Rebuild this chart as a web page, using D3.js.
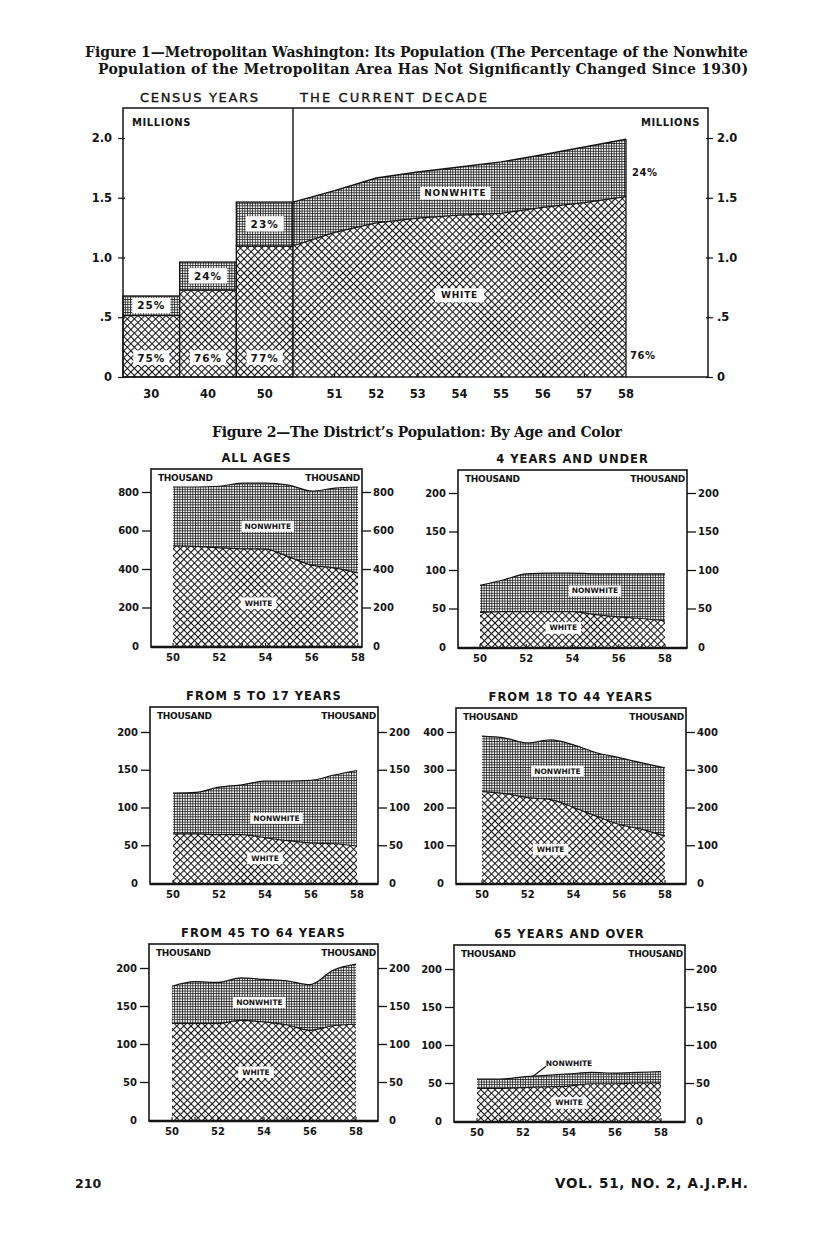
<!DOCTYPE html>
<html>
<head>
<meta charset="utf-8">
<script src="https://d3js.org/d3.v7.min.js"></script>
<style>
  body { margin: 0; background: #fff; }
  svg text { fill: #141414; }
</style>
</head>
<body>
<svg width="816" height="1255"></svg>
<script>
// ---- Figure 1: metropolitan area, millions ----
var censusYears = ["30", "40", "50"];
var censusWhite = [0.515, 0.728, 1.096];
var censusNonwhite = [0.163, 0.234, 0.368];
var censusWhitePct = ["75%", "76%", "77%"];
var censusNonwhitePct = ["25%", "24%", "23%"];

var decadeYears = [1950, 1951, 1952, 1953, 1954, 1955, 1956, 1957, 1958];
var decadeWhite = [1.096, 1.21, 1.29, 1.33, 1.355, 1.37, 1.42, 1.46, 1.51];
var decadeNonwhite = [0.368, 0.35, 0.375, 0.385, 0.402, 0.43, 0.44, 0.465, 0.48];
var decadeLabels = ["51", "52", "53", "54", "55", "56", "57", "58"];
var fig1Ticks = [0, 0.5, 1.0, 1.5, 2.0];

// ---- Figure 2: the District, thousands ----
var years = [1950, 1951, 1952, 1953, 1954, 1955, 1956, 1957, 1958];
var yearLabels = [1950, 1952, 1954, 1956, 1958];

var allAgesWhite = [520, 518, 510, 505, 503, 463, 420, 405, 380];
var allAgesNonwhite = [306, 308, 320, 341, 343, 373, 385, 415, 446];
var under5White = [45, 46, 46, 46, 46, 42, 39, 37, 34];
var under5Nonwhite = [35, 41, 49, 50, 50, 53, 56, 58, 61];
var age5to17White = [65, 65, 64, 64, 60, 56, 53, 52, 49];
var age5to17Nonwhite = [54, 55, 63, 66, 75, 79, 83, 91, 100];
var age18to44White = [242, 237, 226, 221, 200, 177, 155, 142, 124];
var age18to44Nonwhite = [147, 147, 145, 158, 166, 168, 177, 176, 181];
var age45to64White = [127, 127, 127, 131, 129, 125, 118, 124, 126];
var age45to64Nonwhite = [49, 55, 54, 56, 56, 58, 60, 73, 79];
var over65White = [43, 43, 44, 45, 46, 49, 49, 50, 50];
var over65Nonwhite = [12, 12, 14, 15, 16, 15, 14, 14, 15];

var ticks800 = [0, 200, 400, 600, 800];
var ticks200 = [0, 50, 100, 150, 200];
var ticks400 = [0, 100, 200, 300, 400];

var ink = "#141414";
var sans = "'DejaVu Sans', sans-serif";
var serif = "'DejaVu Serif', serif";

var svg = d3.select("svg");

// patterns: crosshatch for white, fine grid for nonwhite
var defs = svg.append("defs");
var hatch = defs.append("pattern")
  .attr("id", "hatch")
  .attr("patternUnits", "userSpaceOnUse")
  .attr("width", 5).attr("height", 5)
  .attr("patternTransform", "rotate(45)");
hatch.append("rect").attr("width", 5).attr("height", 5).attr("fill", "#fff");
hatch.append("path").attr("d", "M0,0.5H5M0.5,0V5")
  .attr("stroke", ink).attr("stroke-width", 1.2);

var grid = defs.append("pattern")
  .attr("id", "grid")
  .attr("patternUnits", "userSpaceOnUse")
  .attr("width", 2.6).attr("height", 2.6);
grid.append("rect").attr("width", 2.6).attr("height", 2.6).attr("fill", "#fff");
grid.append("path").attr("d", "M0,0.5H2.6M0.5,0V2.6")
  .attr("stroke", ink).attr("stroke-width", 0.8);

function addText(g, x, y, str, size, weight, anchor, font) {
  return g.append("text")
    .attr("x", x).attr("y", y)
    .attr("text-anchor", anchor || "start")
    .style("font-family", font || sans)
    .style("font-size", size + "px")
    .style("font-weight", weight || "bold")
    .text(str);
}

// white box with a label, centred on (x, y)
function labelBox(g, x, y, str, size, spacing, pad) {
  pad = pad || 3;
  var box = g.append("rect").attr("fill", "#fff");
  var t = addText(g, x, y + size * 0.36, str, size, "bold", "middle")
    .style("letter-spacing", (spacing || 0) + "px");
  var b = t.node().getBBox();
  box.attr("x", b.x - pad).attr("y", b.y - pad / 3)
    .attr("width", b.width + pad * 2).attr("height", b.height + pad * 2 / 3);
  return t;
}

// ---------------- titles ----------------
addText(svg, 85, 57, "Figure 1\u2014Metropolitan Washington: Its Population (The Percentage of the Nonwhite", 14, "bold", "start", serif)
  .attr("textLength", 663);
addText(svg, 98, 74, "Population of the Metropolitan Area Has Not Significantly Changed Since 1930)", 14, "bold", "start", serif)
  .attr("textLength", 650);
addText(svg, 140, 102, "CENSUS YEARS", 13, "normal").attr("textLength", 118)
  .style("stroke", ink).style("stroke-width", 0.35);
addText(svg, 300, 102, "THE CURRENT DECADE", 13, "normal").attr("textLength", 187)
  .style("stroke", ink).style("stroke-width", 0.35);

// ---------------- Figure 1 ----------------
var f1 = { left: 123, right: 708, top: 108, bottom: 377, split: 293, end: 626 };
var yM = d3.scaleLinear().domain([0, 2]).range([f1.bottom, 138]);
var xCensus = d3.scaleBand().domain(censusYears).range([f1.left, f1.split]);
var xDecade = d3.scaleLinear().domain([1950, 1958]).range([f1.split, f1.end]);

var g1 = svg.append("g");

// census bars
censusYears.forEach(function (yr, i) {
  g1.append("rect")
    .attr("x", xCensus(yr)).attr("width", xCensus.bandwidth())
    .attr("y", yM(censusWhite[i])).attr("height", yM(0) - yM(censusWhite[i]))
    .attr("fill", "url(#hatch)").attr("stroke", ink).attr("stroke-width", 1.3);
  g1.append("rect")
    .attr("x", xCensus(yr)).attr("width", xCensus.bandwidth())
    .attr("y", yM(censusWhite[i] + censusNonwhite[i]))
    .attr("height", yM(censusWhite[i]) - yM(censusWhite[i] + censusNonwhite[i]))
    .attr("fill", "url(#grid)").attr("stroke", ink).attr("stroke-width", 1.3);
});

// current decade areas
var decade = decadeYears.map(function (d, i) {
  return { year: d, white: decadeWhite[i], total: decadeWhite[i] + decadeNonwhite[i] };
});
g1.append("path").datum(decade)
  .attr("fill", "url(#hatch)")
  .attr("d", d3.area().x(function (d) { return xDecade(d.year); })
    .y0(yM(0)).y1(function (d) { return yM(d.white); }));
g1.append("path").datum(decade)
  .attr("fill", "url(#grid)")
  .attr("d", d3.area().x(function (d) { return xDecade(d.year); })
    .y0(function (d) { return yM(d.white); }).y1(function (d) { return yM(d.total); }));
g1.append("path").datum(decade)
  .attr("fill", "none").attr("stroke", ink).attr("stroke-width", 1.4)
  .attr("d", d3.line().x(function (d) { return xDecade(d.year); })
    .y(function (d) { return yM(d.total); }));
g1.append("path").datum(decade)
  .attr("fill", "none").attr("stroke", ink).attr("stroke-width", 1.2)
  .attr("d", d3.line().x(function (d) { return xDecade(d.year); })
    .y(function (d) { return yM(d.white); }));
g1.append("line")
  .attr("x1", xDecade(1958)).attr("x2", xDecade(1958))
  .attr("y1", yM(0)).attr("y2", yM(decade[8].total))
  .attr("stroke", ink).attr("stroke-width", 1.3);

// frame and divider
g1.append("rect")
  .attr("x", f1.left).attr("y", f1.top)
  .attr("width", f1.right - f1.left).attr("height", f1.bottom - f1.top)
  .attr("fill", "none").attr("stroke", ink).attr("stroke-width", 1.5);
g1.append("line")
  .attr("x1", f1.split).attr("x2", f1.split).attr("y1", f1.top).attr("y2", f1.bottom)
  .attr("stroke", ink).attr("stroke-width", 1.4);

// axes
var fmtM = function (d) { return d === 0 ? "0" : d < 1 ? ".5" : d3.format(".1f")(d); };
var axL = g1.append("g").attr("transform", "translate(" + f1.left + ",0)")
  .call(d3.axisLeft(yM).tickValues(fig1Ticks).tickFormat(fmtM).tickSize(5).tickPadding(6));
var axR = g1.append("g").attr("transform", "translate(" + f1.right + ",0)")
  .call(d3.axisRight(yM).tickValues(fig1Ticks).tickFormat(fmtM).tickSize(5).tickPadding(4));
[axL, axR].forEach(function (ax) {
  ax.select(".domain").remove();
  ax.selectAll("line").attr("stroke", ink).attr("stroke-width", 1.2);
  ax.selectAll("text").style("font-family", sans).style("font-size", "11.5px")
    .style("font-weight", "bold").attr("fill", ink);
});
axL.selectAll("line").attr("x1", 2);
axR.selectAll("line").attr("x1", -2);

censusYears.forEach(function (yr) {
  addText(g1, xCensus(yr) + xCensus.bandwidth() / 2, 398, yr, 11.5, "bold", "middle");
});
decadeLabels.forEach(function (lab, i) {
  var x = xDecade(1951 + i);
  addText(g1, x, 398, lab, 11.5, "bold", "middle");
  if (i < 7) {
    g1.append("line").attr("x1", x).attr("x2", x)
      .attr("y1", f1.bottom).attr("y2", f1.bottom - 4)
      .attr("stroke", ink).attr("stroke-width", 1.2);
  }
});

// labels
addText(g1, 132, 126, "MILLIONS", 10, "bold").style("letter-spacing", "0.6px");
addText(g1, 700, 126, "MILLIONS", 10, "bold", "end").style("letter-spacing", "0.6px");
censusYears.forEach(function (yr, i) {
  var cx = xCensus(yr) + xCensus.bandwidth() / 2;
  labelBox(g1, cx, yM(censusWhite[i] + censusNonwhite[i] / 2), censusNonwhitePct[i], 10.5, 1, 5);
  labelBox(g1, cx, yM(0.16), censusWhitePct[i], 10.5, 1, 4);
});
labelBox(g1, xDecade(1953.9), yM(1.54), "NONWHITE", 9, 0.8, 4);
labelBox(g1, xDecade(1954.0), yM(0.686), "WHITE", 9, 0.8, 6);
addText(g1, xDecade(1958) + 6, yM(1.715) + 4, "24%", 10, "bold").style("letter-spacing", "0.5px");
addText(g1, xDecade(1958) + 4, yM(0.18) + 4, "76%", 10, "bold").style("letter-spacing", "0.5px");

// ---------------- Figure 2 ----------------
addText(svg, 212, 437, "Figure 2\u2014The District\u2019s Population: By Age and Color", 14, "bold", "start", serif)
  .attr("textLength", 410);

var panels = [
  { title: "ALL AGES", white: allAgesWhite, nonwhite: allAgesNonwhite, ticks: ticks800,
    l: 151, r: 362, t: 469, b: 647, x0: 173, x1: 358, ytop: 492,
    nwLab: [1954.1, 623], wLab: [1953.7, 223] },
  { title: "4 YEARS AND UNDER", white: under5White, nonwhite: under5Nonwhite, ticks: ticks200,
    l: 458, r: 687, t: 470, b: 648, x0: 480, x1: 665, ytop: 493,
    nwLab: [1954.97, 73], wLab: [1953.6, 25] },
  { title: "FROM 5 TO 17 YEARS", white: age5to17White, nonwhite: age5to17Nonwhite, ticks: ticks200,
    l: 150, r: 378, t: 707, b: 884, x0: 173, x1: 357, ytop: 732,
    nwLab: [1954.5, 86], wLab: [1954.0, 33] },
  { title: "FROM 18 TO 44 YEARS", white: age18to44White, nonwhite: age18to44Nonwhite, ticks: ticks400,
    l: 456, r: 686, t: 708, b: 884, x0: 482, x1: 665, ytop: 732,
    nwLab: [1953.3, 297], wLab: [1953.0, 89] },
  { title: "FROM 45 TO 64 YEARS", white: age45to64White, nonwhite: age45to64Nonwhite, ticks: ticks200,
    l: 149, r: 378, t: 944, b: 1121, x0: 172, x1: 356, ytop: 968,
    nwLab: [1953.8, 155], wLab: [1953.65, 63] },
  { title: "65 YEARS AND OVER", white: over65White, nonwhite: over65Nonwhite, ticks: ticks200,
    l: 454, r: 685, t: 945, b: 1122, x0: 477, x1: 661, ytop: 969,
    nwLab: [1954.0, 76], wLab: [1954.0, 24], leader: [[1952.4, 58], [1953.0, 72]] }
];

panels.forEach(function (p) {
  var g = svg.append("g");
  var x = d3.scaleLinear().domain([1950, 1958]).range([p.x0, p.x1]);
  var y = d3.scaleLinear().domain([0, p.ticks[p.ticks.length - 1]]).range([p.b - 1, p.ytop]);
  var rows = years.map(function (yr, i) {
    return { year: yr, white: p.white[i], total: p.white[i] + p.nonwhite[i] };
  });

  g.append("path").datum(rows)
    .attr("fill", "url(#grid)")
    .attr("d", d3.area().curve(d3.curveMonotoneX)
      .x(function (d) { return x(d.year); })
      .y0(function (d) { return y(d.white); })
      .y1(function (d) { return y(d.total); }));
  g.append("path").datum(rows)
    .attr("fill", "url(#hatch)")
    .attr("d", d3.area().curve(d3.curveMonotoneX)
      .x(function (d) { return x(d.year); })
      .y0(y(0))
      .y1(function (d) { return y(d.white); }));
  ["total", "white"].forEach(function (k) {
    g.append("path").datum(rows)
      .attr("fill", "none").attr("stroke", ink).attr("stroke-width", 1.2)
      .attr("d", d3.line().curve(d3.curveMonotoneX)
        .x(function (d) { return x(d.year); })
        .y(function (d) { return y(d[k]); }));
  });

  // frame
  g.append("rect")
    .attr("x", p.l).attr("y", p.t).attr("width", p.r - p.l).attr("height", p.b - p.t)
    .attr("fill", "none").attr("stroke", ink).attr("stroke-width", 1.6);
  g.append("line")
    .attr("x1", p.l).attr("x2", p.r).attr("y1", p.b).attr("y2", p.b)
    .attr("stroke", ink).attr("stroke-width", 2.4);

  // year ticks on the base
  years.forEach(function (yr) {
    g.append("line").attr("x1", x(yr)).attr("x2", x(yr))
      .attr("y1", p.b).attr("y2", p.b - 4)
      .attr("stroke", ink).attr("stroke-width", 1.1);
  });
  yearLabels.forEach(function (yr) {
    addText(g, x(yr), p.b + 14, String(yr).slice(2), 10, "bold", "middle");
  });

  var axL = g.append("g").attr("transform", "translate(" + p.l + ",0)")
    .call(d3.axisLeft(y).tickValues(p.ticks).tickSize(9).tickPadding(3));
  var axR = g.append("g").attr("transform", "translate(" + p.r + ",0)")
    .call(d3.axisRight(y).tickValues(p.ticks).tickSize(9).tickPadding(2));
  [axL, axR].forEach(function (ax) {
    ax.select(".domain").remove();
    ax.selectAll("line").attr("stroke", ink).attr("stroke-width", 1.3);
    ax.selectAll("text").style("font-family", sans).style("font-size", "10px")
      .style("font-weight", "bold").attr("fill", ink);
    ax.selectAll(".tick").filter(function (d) { return d === 0; })
      .select("line").remove();
  });

  addText(g, (p.l + p.r) / 2, p.t - 7, p.title, 11.5, "bold", "middle")
    .style("letter-spacing", "1px");
  addText(g, p.l + 7, p.t + 12, "THOUSAND", 9, "bold").style("letter-spacing", "-0.3px");
  addText(g, p.r - 2, p.t + 12, "THOUSAND", 9, "bold", "end").style("letter-spacing", "-0.3px");

  if (p.leader) {
    g.append("line")
      .attr("x1", x(p.leader[0][0])).attr("y1", y(p.leader[0][1]))
      .attr("x2", x(p.leader[1][0])).attr("y2", y(p.leader[1][1]))
      .attr("stroke", ink).attr("stroke-width", 1.2);
    addText(g, x(p.nwLab[0]), y(p.nwLab[1]) + 2.5, "NONWHITE", 7.5, "bold", "middle");
  } else {
    labelBox(g, x(p.nwLab[0]), y(p.nwLab[1]), "NONWHITE", 7.5, 0, 3);
  }
  labelBox(g, x(p.wLab[0]), y(p.wLab[1]), "WHITE", 7.5, 0, 4);
});

// page footer
addText(svg, 75, 1188, "210", 12.5, "bold");
addText(svg, 748, 1188, "VOL. 51, NO. 2, A.J.P.H.", 13.5, "bold", "end").attr("textLength", 193);
</script>
</body>
</html>
